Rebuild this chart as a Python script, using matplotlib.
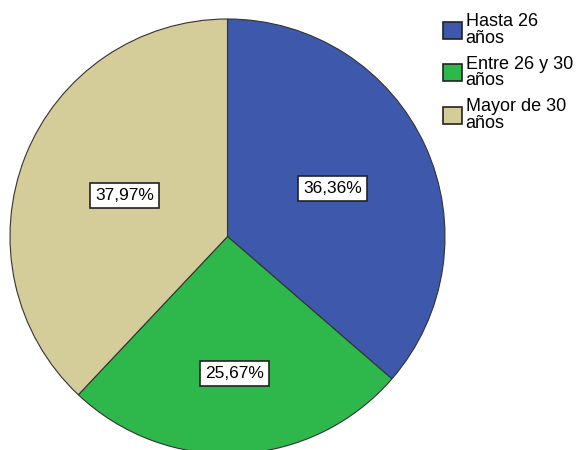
import numpy as np
import matplotlib.pyplot as plt
from matplotlib.patches import Patch

plt.rcParams['font.family'] = ['Liberation Sans', 'DejaVu Sans']

categorias = ['Hasta 26\naños', 'Entre 26 y 30\naños', 'Mayor de 30\naños']
porcentajes = [36.36, 25.67, 37.97]
colores = ['#3E58AC', '#2EB84C', '#D4CD99']
# distancia radial de cada etiqueta
dist_etiqueta = [0.53, 0.63, 0.51]

fig = plt.figure(figsize=(5.76, 4.5), dpi=100)
ax = fig.add_axes([10 / 576, -4 / 450, 435 / 576, 435 / 450])

wedges, _ = ax.pie(porcentajes, colors=colores, startangle=90, counterclock=False,
                   radius=1, wedgeprops=dict(edgecolor='#333333', linewidth=0.8))

for w, p, d in zip(wedges, porcentajes, dist_etiqueta):
    ang = np.deg2rad((w.theta1 + w.theta2) / 2)
    ax.text(d * np.cos(ang), d * np.sin(ang), f'{p:.2f}%'.replace('.', ','),
            ha='center', va='center', fontsize=12.5,
            bbox=dict(boxstyle='square,pad=0.28', facecolor='white',
                      edgecolor='#222222', linewidth=1.2))

ax.set_xlim(-1, 1)
ax.set_ylim(-1, 1)
ax.set_aspect('equal')
ax.axis('off')

handles = [Patch(facecolor=c, edgecolor='#222222', linewidth=1.2) for c in colores]
leg = fig.legend(handles, categorias, loc='upper left',
                 bbox_to_anchor=(443 / 576, 1 - 13 / 450),
                 frameon=False, fontsize=13, handlelength=1.05, handleheight=1.05,
                 handletextpad=0.2, labelspacing=0.5, borderaxespad=0, borderpad=0)
for t in leg.get_texts():
    t.set_linespacing(0.97)

fig.savefig('out.png', dpi=100)
